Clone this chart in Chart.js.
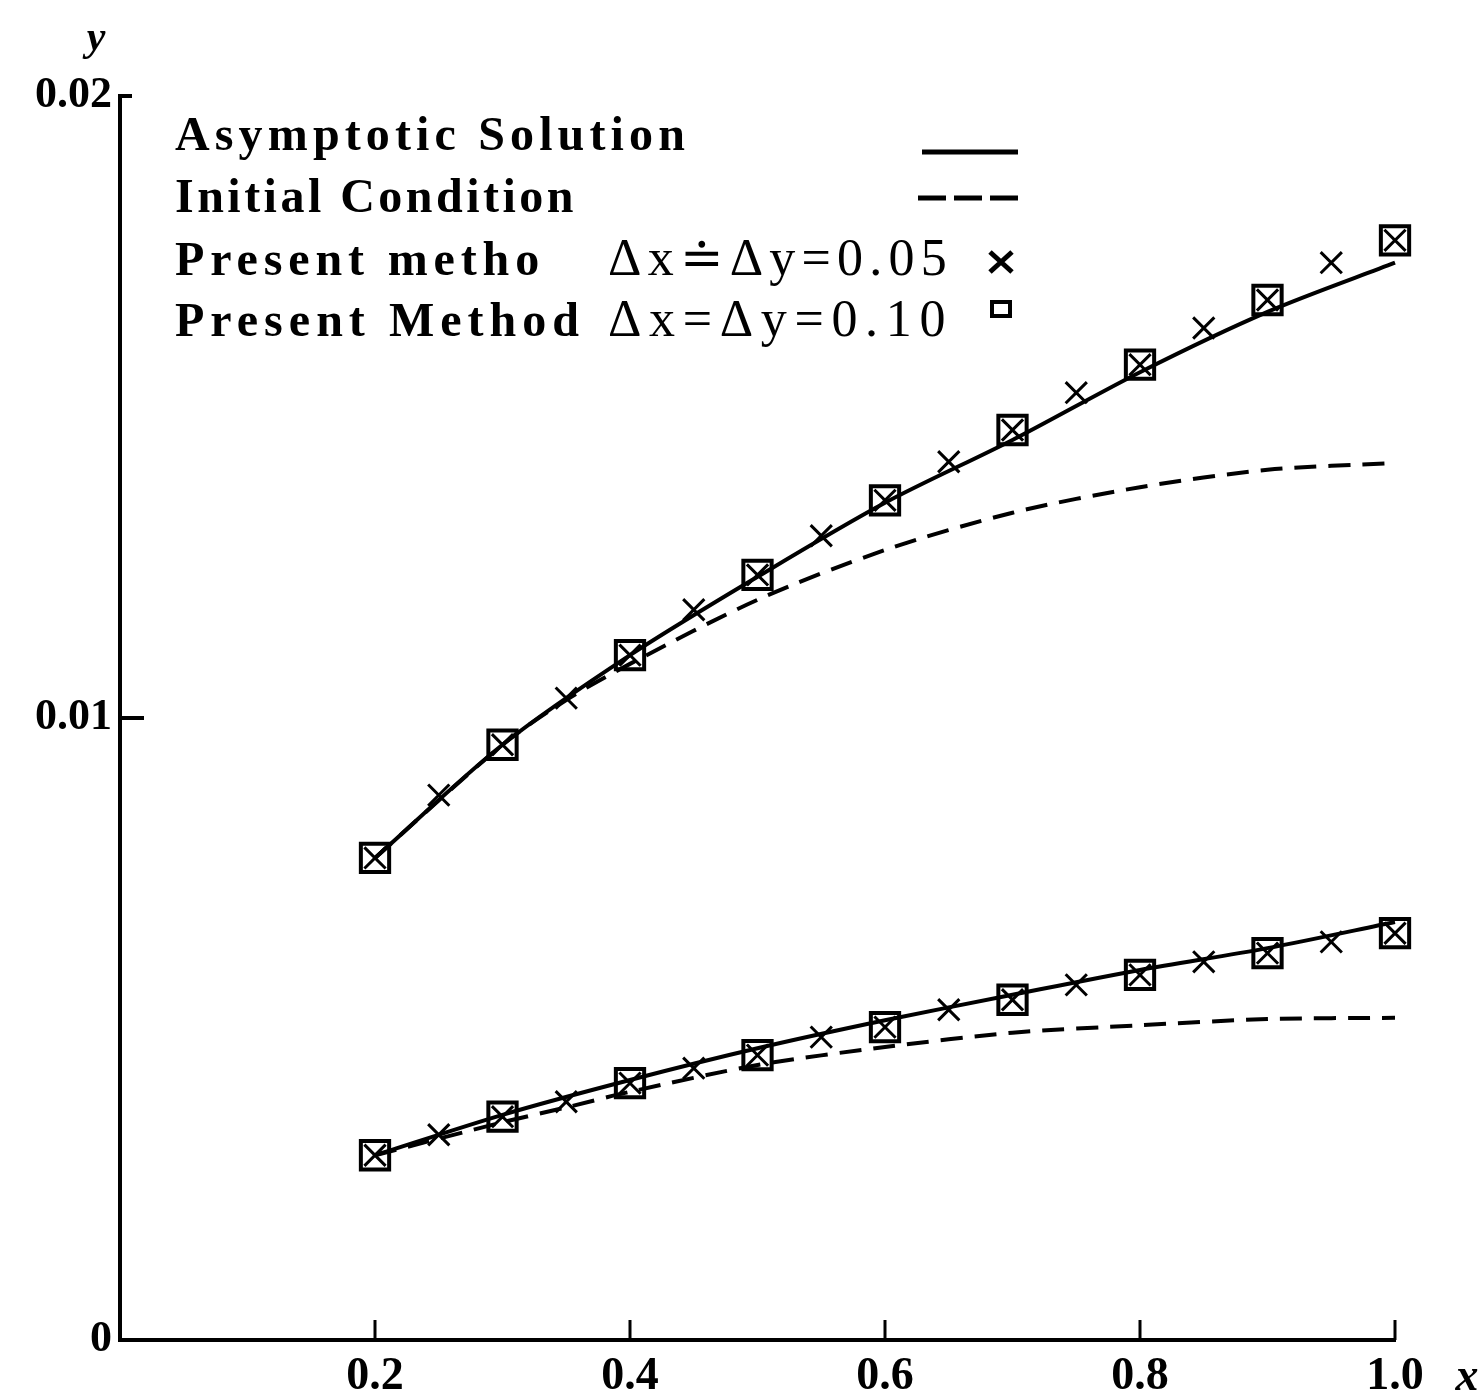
<!DOCTYPE html>
<html>
<head>
<meta charset="utf-8">
<script src="https://cdn.jsdelivr.net/npm/chart.js@4/dist/chart.umd.min.js"></script>
<style>
    html, body { margin: 0; padding: 0; background: #fff; }
</style>
</head>
<body>
<canvas id="chart" width="1480" height="1398"></canvas>
<script>
// x positions
const x_coarse = [0.2, 0.3, 0.4, 0.5, 0.6, 0.7, 0.8, 0.9, 1.0];
const x_fine = [0.2, 0.25, 0.3, 0.35, 0.4, 0.45, 0.5, 0.55, 0.6, 0.65, 0.7, 0.75, 0.8, 0.85, 0.9, 0.95, 1.0];
const x_initial = [0.2, 0.3, 0.35, 0.4, 0.5, 0.6, 0.7, 0.8, 0.9, 1.0];

// asymptotic solution (solid)
const asym_upper = [0.00775, 0.00957, 0.01101, 0.01227, 0.01346, 0.01447, 0.01556, 0.01653, 0.01732];
const asym_lower = [0.00297, 0.00362, 0.00418, 0.00469, 0.00514, 0.00555, 0.00595, 0.00630, 0.00672];

// initial condition (dashed)
const init_upper = [0.00775, 0.00957, 0.01029, 0.01087, 0.01190, 0.01270, 0.01330, 0.01371, 0.01399, 0.01410];
const init_lower = [0.00297, 0.00350, 0.00374, 0.00399, 0.00442, 0.00471, 0.00494, 0.00506, 0.00516, 0.00518];

// present method dx = dy = 0.05 (crosses)
const fine_upper = [0.00775, 0.00876, 0.00957, 0.01032, 0.01101, 0.01174, 0.01230, 0.01293, 0.01350,
    0.01412, 0.01463, 0.01523, 0.01568, 0.01627, 0.01672, 0.01732, 0.01768];
const fine_lower = [0.00297, 0.00330, 0.00359, 0.00383, 0.00413, 0.00437, 0.00458, 0.00487, 0.00503,
    0.00531, 0.00547, 0.00571, 0.00587, 0.00608, 0.00622, 0.00640, 0.00654];

// present method dx = dy = 0.10 (squares)
const coarse_upper = [0.00775, 0.00957, 0.01101, 0.01230, 0.01350, 0.01463, 0.01568, 0.01672, 0.01768];
const coarse_lower = [0.00297, 0.00359, 0.00413, 0.00458, 0.00503, 0.00547, 0.00587, 0.00622, 0.00654];

const x_ticks = [0.2, 0.4, 0.6, 0.8, 1.0];
const y_ticks = [0.01, 0.02];

const legend_rows = [
    {text: "Asymptotic Solution", sym: "solid"},
    {text: "Initial Condition", sym: "dash"},
    {text: "Present metho", extra: "Δx≐Δy=0.05", sym: "cross"},
    {text: "Present Method", extra: "Δx=Δy=0.10", sym: "square"}
];

const SERIF = '"Liberation Serif", "DejaVu Serif", serif';

const to_points = function (xs, ys) {
    let array = [];
    for (let i = 0; i < xs.length; i++) {
        array.push({x: xs[i], y: ys[i]});
    }
    return array;
}

const line_set = (data, dashed) => ({
    data: data,
    showLine: true,
    borderColor: "#000",
    borderWidth: 4,
    borderDash: dashed ? [22, 12] : [],
    pointRadius: 0,
    tension: 0.3,
    fill: false,
    clip: false
});

const mark_set = (data, style, r, w) => ({
    data: data,
    showLine: false,
    pointStyle: style,
    pointRadius: r,
    borderColor: "#000",
    backgroundColor: "rgba(0,0,0,0)",
    borderWidth: w,
    clip: false
});

// write text spread to a given width
const fit_text = (ctx, text, x, y, width) => {
    ctx.letterSpacing = "0px";
    const w = ctx.measureText(text).width;
    const sp = Math.max(0, (width - w) / text.length);
    ctx.letterSpacing = sp.toFixed(2) + "px";
    ctx.fillText(text, x, y);
    ctx.letterSpacing = "0px";
}

const paper_plugin = {
    id: "paper",
    afterDraw(chart) {
        const ctx = chart.ctx;
        const xs = chart.scales.x;
        const ys = chart.scales.y;
        const area = chart.chartArea;
        ctx.save();
        ctx.strokeStyle = "#000";
        ctx.fillStyle = "#000";

        // inward ticks
        ctx.lineWidth = 3;
        x_ticks.forEach(v => {
            const px = xs.getPixelForValue(v);
            ctx.beginPath();
            ctx.moveTo(px, area.bottom);
            ctx.lineTo(px, area.bottom - 20);
            ctx.stroke();
        });
        ctx.lineWidth = 4;
        y_ticks.forEach(v => {
            const py = ys.getPixelForValue(v);
            ctx.beginPath();
            ctx.moveTo(area.left, py);
            ctx.lineTo(area.left + (v === 0.02 ? 12 : 24), py);
            ctx.stroke();
        });

        // axis letters
        ctx.font = "italic bold 42px " + SERIF;
        ctx.textAlign = "center";
        ctx.textBaseline = "alphabetic";
        ctx.fillText("y", area.left - 24, 50);
        ctx.font = "italic bold 46px " + SERIF;
        ctx.fillText("x", area.right + 72, area.bottom + 50);

        // legend
        ctx.textAlign = "left";
        const widths = [515, 402, 370, 410];
        const base = [150, 212, 275, 336];
        legend_rows.forEach((row, i) => {
            ctx.font = "bold 48px " + SERIF;
            fit_text(ctx, row.text, 175, base[i], widths[i]);
            if (row.extra) {
                ctx.font = "52px " + SERIF;
                fit_text(ctx, row.extra, 608, base[i], 345);
            }
        });
        ctx.lineWidth = 5;
        ctx.beginPath();
        ctx.moveTo(922, 152);
        ctx.lineTo(1018, 152);
        ctx.stroke();
        ctx.setLineDash([28, 8]);
        ctx.beginPath();
        ctx.moveTo(918, 198);
        ctx.lineTo(1018, 198);
        ctx.stroke();
        ctx.setLineDash([]);
        ctx.lineWidth = 5;
        ctx.beginPath();
        ctx.moveTo(990, 252); ctx.lineTo(1012, 272);
        ctx.moveTo(1012, 252); ctx.lineTo(990, 272);
        ctx.stroke();
        ctx.lineWidth = 4;
        ctx.strokeRect(992, 302, 18, 14);
        ctx.restore();
    }
};

const draw_chart = () => {
    const ctx = document.getElementById("chart");

    new Chart(ctx, {
        type: "scatter",
        data: {
            datasets: [
                mark_set(to_points(x_fine, fine_upper), "crossRot", 15, 3),
                mark_set(to_points(x_fine, fine_lower), "crossRot", 15, 3),
                mark_set(to_points(x_coarse, coarse_upper), "rect", 20, 4),
                mark_set(to_points(x_coarse, coarse_lower), "rect", 20, 4),
                line_set(to_points(x_coarse, asym_upper), false),
                line_set(to_points(x_coarse, asym_lower), false),
                line_set(to_points(x_initial, init_upper), true),
                line_set(to_points(x_initial, init_lower), true)
            ]
        },
        options: {
            responsive: false,
            animation: false,
            devicePixelRatio: 1,
            layout: {padding: {top: 96, right: 85, left: 0, bottom: 0}},
            plugins: {legend: {display: false}, tooltip: {enabled: false}},
            scales: {
                x: {
                    type: "linear",
                    min: 0,
                    max: 1.0,
                    afterFit: s => { s.height = 58; },
                    grid: {display: true, drawOnChartArea: false, drawTicks: false},
                    border: {display: true, color: "#000", width: 4},
                    ticks: {
                        stepSize: 0.2,
                        padding: 10,
                        color: "#000",
                        font: {family: SERIF, size: 46, weight: "bold"},
                        callback: v => v === 0 ? "" : v.toFixed(1)
                    }
                },
                y: {
                    min: 0,
                    max: 0.02,
                    afterFit: s => { s.width = 120; },
                    grid: {display: true, drawOnChartArea: false, drawTicks: false},
                    border: {display: true, color: "#000", width: 4},
                    ticks: {
                        stepSize: 0.01,
                        padding: 8,
                        color: "#000",
                        font: {family: SERIF, size: 44, weight: "bold"},
                        callback: v => v === 0 ? "0" : v.toFixed(2)
                    }
                }
            }
        },
        plugins: [paper_plugin]
    });
}

draw_chart();
</script>
</body>
</html>
